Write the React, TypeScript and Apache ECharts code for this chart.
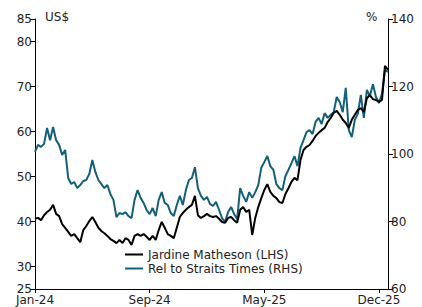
import React, { useEffect, useRef } from "react";
import * as echarts from "echarts";

const tickLabels = ["Jan-24", "Sep-24", "May-25", "Dec-25"];
const tickStep = 38;

const jardine = [
  40.6, 40.8, 40.3, 41.4, 42.1, 42.6, 43.7, 41.7, 41.2, 39.4,
  38.6, 37.7, 36.8, 37.2, 36.3, 35.4, 38.1, 39.0, 40.1, 41.0,
  39.9, 38.6, 37.9, 37.4, 36.8, 36.1, 35.7, 35.2, 35.9, 35.2,
  36.3, 35.9, 34.8, 36.8, 37.2, 36.8, 37.2, 36.6, 35.9, 36.8,
  35.9, 38.1, 39.9, 38.6, 37.2, 36.8, 36.3, 38.6, 41.0, 41.9,
  42.6, 43.2, 43.7, 45.7, 41.4, 40.8, 41.2, 41.7, 41.2, 41.0,
  41.2, 40.6, 39.9, 39.7, 40.8, 41.0, 40.3, 39.7, 42.6, 43.2,
  42.1, 42.6, 37.0, 40.8, 43.2, 45.2, 47.0, 48.3, 46.6, 45.7,
  45.2, 44.3, 44.1, 46.1, 47.4, 48.8, 49.7, 49.2, 53.7, 55.9,
  56.6, 57.0, 57.9, 59.0, 59.7, 60.3, 60.8, 62.1, 63.0, 64.1,
  64.6, 63.7, 62.6, 61.9, 60.8, 62.6, 63.7, 64.8, 65.2, 64.3,
  67.4, 68.1, 67.2, 67.0, 66.6, 67.0, 74.6, 73.7,
];

const relStraits = [
  100.6, 102.7, 102.1, 103.0, 107.7, 104.1, 108.0, 104.1, 102.7, 99.7,
  101.2, 92.9, 91.1, 91.7, 89.9, 90.8, 92.0, 92.3, 94.1, 98.2,
  94.7, 92.3, 91.1, 89.9, 90.8, 88.1, 86.4, 81.3, 82.5, 82.2,
  82.8, 81.6, 81.0, 86.4, 89.3, 87.0, 85.5, 83.4, 82.2, 84.0,
  81.6, 86.4, 88.7, 85.5, 84.9, 82.5, 81.6, 84.9, 87.6, 84.9,
  89.3, 92.3, 92.9, 96.1, 89.9, 87.6, 86.4, 87.3, 85.2, 84.6,
  85.8, 83.4, 81.0, 79.9, 82.8, 84.3, 82.2, 80.7, 89.9, 87.6,
  85.8, 88.7, 87.0, 88.7, 90.8, 95.9, 97.6, 99.4, 96.4, 95.3,
  91.1, 89.9, 89.3, 93.5, 95.3, 97.3, 99.4, 96.4, 101.8, 104.1,
  106.5, 107.1, 105.9, 109.5, 110.7, 108.9, 112.1, 110.7, 111.6, 112.4,
  116.9, 115.4, 112.4, 119.6, 107.1, 105.0, 110.1, 111.9, 117.5, 110.7,
  119.0, 117.2, 120.7, 116.9, 115.1, 117.8, 124.9, 124.3,
];

const leftTicks = [25, 30, 40, 50, 60, 70, 80, 85];
const categories = jardine.map((_, i) =>
  i % tickStep === 0 && tickLabels[i / tickStep] ? tickLabels[i / tickStep] : String(i)
);

const FONT = "DejaVu Sans";
const TXT = "#222222";
const TEAL = "#13607a";

export default function App() {
  const ref = useRef<HTMLDivElement>(null);
  useEffect(() => {
    if (!ref.current) return;
    const chart = echarts.init(ref.current, undefined, { renderer: "svg" });
    chart.setOption({
      animation: false,
      textStyle: { fontFamily: FONT },
      grid: { left: 35, right: 34, top: 19, bottom: 18, containLabel: false },
      legend: {
        orient: "vertical",
        left: 125,
        top: 248,
        padding: 0,
        itemWidth: 18,
        itemHeight: 2,
        itemGap: 1,
        icon: "rect",
        textStyle: { fontFamily: FONT, fontSize: 12, color: TXT, lineHeight: 13, padding: [0, 0, 0, 0] },
        data: ["Jardine Matheson (LHS)", "Rel to Straits Times (RHS)"],
      },
      graphic: [
        { type: "text", left: 45, top: 11, style: { text: "US$", font: `12px "${FONT}"`, fill: TXT } },
        { type: "text", left: 366, top: 11, style: { text: "%", font: `12px "${FONT}"`, fill: TXT } },
      ],
      xAxis: {
        type: "category",
        data: categories,
        boundaryGap: false,
        axisLine: { show: true, lineStyle: { color: "#000", width: 1 } },
        axisTick: { show: true, interval: tickStep - 1, length: 4, lineStyle: { color: "#000" } },
        axisLabel: {
          interval: tickStep - 1,
          color: TXT,
          fontFamily: FONT,
          fontSize: 12,
          margin: 5,
          formatter: (v: string) => (tickLabels.includes(v) ? v : ""),
        },
        splitLine: { show: false },
      },
      yAxis: [
        {
          type: "value",
          min: 25,
          max: 85,
          position: "left",
          axisLine: { show: true, lineStyle: { color: "#000", width: 1 } },
          axisTick: { show: true, length: 5, customValues: leftTicks, lineStyle: { color: "#000" } },
          axisLabel: { color: TXT, fontFamily: FONT, fontSize: 12, margin: 3, customValues: leftTicks },
          splitLine: { show: false },
        },
        {
          type: "value",
          min: 60,
          max: 140,
          interval: 20,
          position: "right",
          axisLine: { show: true, lineStyle: { color: "#000", width: 1 } },
          axisTick: { show: true, length: 5, lineStyle: { color: "#000" } },
          axisLabel: { color: TXT, fontFamily: FONT, fontSize: 12, margin: 3 },
          splitLine: { show: false },
        },
      ],
      series: [
        {
          name: "Rel to Straits Times (RHS)",
          type: "line",
          yAxisIndex: 1,
          data: relStraits,
          showSymbol: false,
          symbol: "none",
          lineStyle: { color: TEAL, width: 2 },
          itemStyle: { color: TEAL },
        },
        {
          name: "Jardine Matheson (LHS)",
          type: "line",
          yAxisIndex: 0,
          data: jardine,
          showSymbol: false,
          symbol: "none",
          lineStyle: { color: "#000", width: 2 },
          itemStyle: { color: "#000" },
        },
      ],
    });
    return () => chart.dispose();
  }, []);
  return <div ref={ref} style={{ width: 422, height: 307, position: "absolute", left: 0, top: 0 }} />;
}
